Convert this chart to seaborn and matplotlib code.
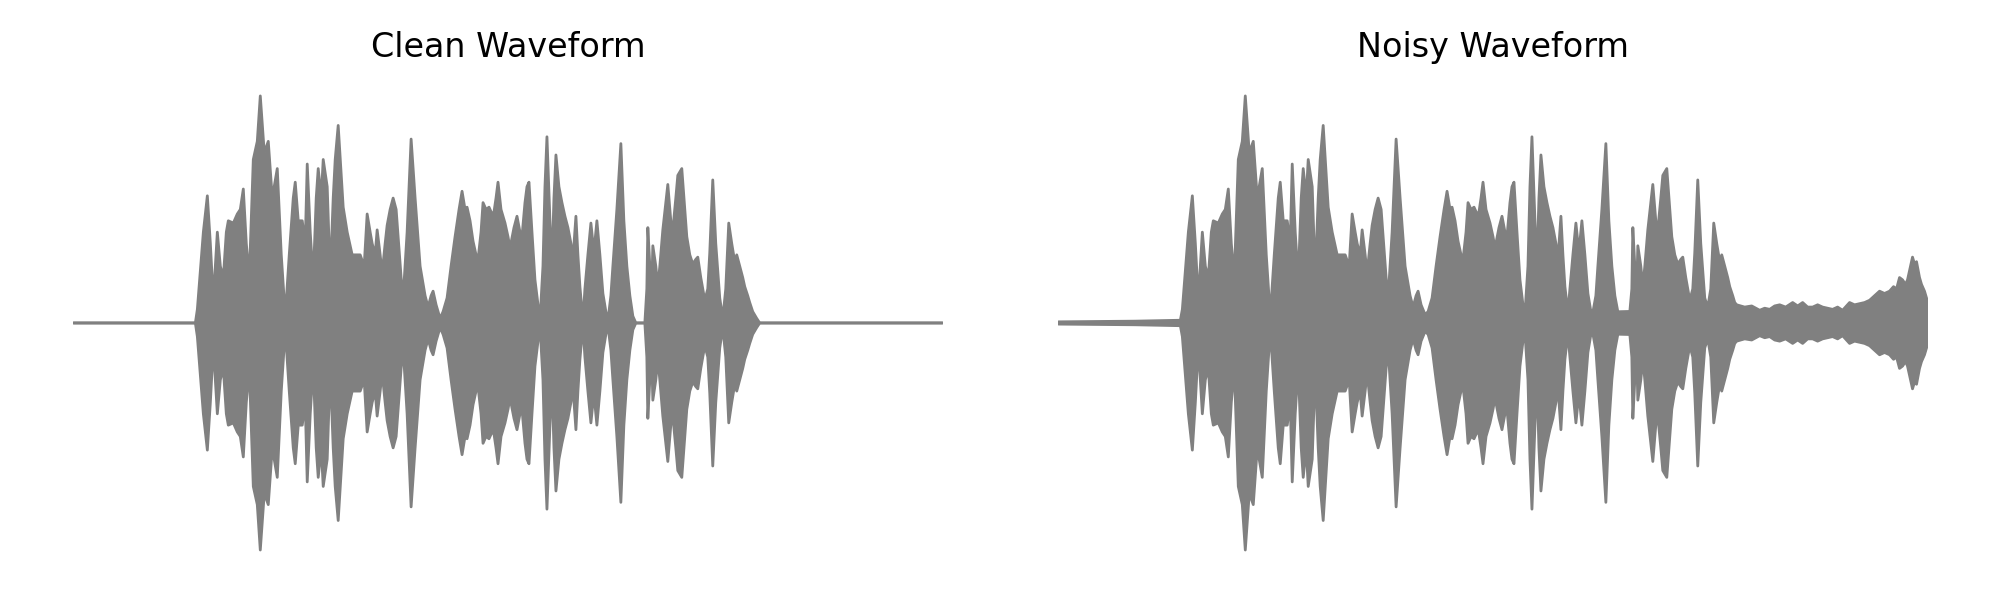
import numpy as np
import pandas as pd
import matplotlib
matplotlib.use("Agg")
import matplotlib.pyplot as plt
import seaborn as sns

# ---- data (time in 5 ms frames, amplitude normalised) ----
clean_t = [0, 122, 124, 130, 134, 137, 140, 144, 147, 150, 153, 155, 160, 164, 167, 170, 173, 176,
           180, 184, 187, 191, 195, 199, 204, 208, 212, 216, 220, 222, 225, 229, 232, 234, 237, 240,
           243, 245, 248, 250, 254, 257, 260, 262, 265, 268, 270, 274, 279, 287, 291, 294, 297, 299,
           302, 304, 307, 309, 312, 314, 317, 320, 323, 325, 328, 330, 334, 338, 342, 347, 352, 355,
           358, 360, 363, 367, 370, 374, 378, 382, 386, 389, 392, 394, 397, 400, 403, 405, 408, 410,
           413, 416, 419, 421, 423, 425, 428, 432, 435, 437, 441, 444, 447, 449, 452, 454, 456, 459,
           462, 465, 467, 470, 472, 474, 477, 479, 481, 483, 486, 489, 492, 495, 498, 500, 503, 505,
           507, 510, 512, 515, 518, 521, 524, 527, 530, 533, 535, 538, 540, 544, 548, 551, 554, 557,
           560, 563, 572, 574, 575, 577, 579, 580, 583, 585, 587, 590, 595, 598, 600, 603, 605, 609,
           612, 614, 617, 620, 623, 625, 628, 632, 635, 637, 640, 643, 647, 650, 653, 656, 659, 662,
           664, 667, 670, 672, 675, 677, 680, 684, 687, 870]
clean_amp = [0.0, 0.0, 0.06, 0.40, 0.56, 0.35, 0.10, 0.40, 0.25, 0.20, 0.40, 0.45, 0.44, 0.48, 0.50,
             0.59, 0.35, 0.20, 0.72, 0.80, 1.00, 0.75, 0.80, 0.55, 0.68, 0.30, 0.03, 0.30, 0.55, 0.62,
             0.45, 0.45, 0.35, 0.70, 0.40, 0.19, 0.55, 0.68, 0.55, 0.72, 0.60, 0.20, 0.55, 0.72, 0.87,
             0.65, 0.51, 0.40, 0.30, 0.30, 0.25, 0.48, 0.40, 0.35, 0.30, 0.41, 0.30, 0.22, 0.35, 0.43,
             0.50, 0.55, 0.50, 0.38, 0.20, 0.11, 0.40, 0.81, 0.55, 0.25, 0.12, 0.07, 0.12, 0.14, 0.08,
             0.02, 0.05, 0.11, 0.25, 0.38, 0.50, 0.58, 0.50, 0.51, 0.45, 0.36, 0.30, 0.28, 0.40, 0.53,
             0.50, 0.51, 0.48, 0.49, 0.55, 0.62, 0.50, 0.44, 0.38, 0.33, 0.42, 0.47, 0.40, 0.38, 0.53,
             0.60, 0.62, 0.40, 0.19, 0.08, 0.01, 0.25, 0.60, 0.82, 0.45, 0.25, 0.55, 0.74, 0.60, 0.53,
             0.47, 0.42, 0.35, 0.28, 0.47, 0.30, 0.16, 0.01, 0.15, 0.30, 0.44, 0.31, 0.45, 0.30, 0.13,
             0.05, 0.01, 0.12, 0.25, 0.50, 0.79, 0.45, 0.25, 0.12, 0.03, 0.0, 0.0, 0.15, 0.42, 0.25,
             0.17, 0.34, 0.25, 0.16, 0.25, 0.41, 0.61, 0.45, 0.41, 0.55, 0.65, 0.68, 0.50, 0.38, 0.30,
             0.26, 0.28, 0.29, 0.20, 0.10, 0.15, 0.31, 0.63, 0.35, 0.11, 0.02, 0.15, 0.44, 0.35, 0.27,
             0.30, 0.25, 0.20, 0.16, 0.12, 0.09, 0.05, 0.02, 0.0, 0.0]

noise_t = [0, 77, 122, 227, 427, 567, 627, 679, 687, 694, 702, 707, 712, 717, 722, 728, 735, 740,
           745, 750, 755, 760, 765, 770, 775, 780, 785, 792, 797, 802, 807, 812, 817, 822, 827, 832,
           836, 839, 842, 845, 848, 850, 853, 855, 857, 859, 862, 864, 867, 869, 870]
noise_amp = [0.005, 0.008, 0.012, 0.03, 0.04, 0.05, 0.06, 0.08, 0.07, 0.075, 0.056, 0.065, 0.06,
             0.075, 0.08, 0.07, 0.09, 0.075, 0.09, 0.07, 0.07, 0.08, 0.07, 0.065, 0.06, 0.07, 0.056,
             0.09, 0.08, 0.085, 0.09, 0.10, 0.12, 0.14, 0.13, 0.14, 0.16, 0.15, 0.20, 0.19, 0.17,
             0.19, 0.25, 0.29, 0.26, 0.27, 0.20, 0.17, 0.14, 0.11, 0.10]

titles = ["Clean Waveform", "Noisy Waveform"]

# ---- build envelopes ----
clean_t_arr = np.array(clean_t, dtype=float)
clean_env = np.array(clean_amp)
grid = np.union1d(clean_t_arr, np.array(noise_t, dtype=float))
noisy_env = np.maximum(np.interp(grid, clean_t_arr, clean_env),
                       np.interp(grid, noise_t, noise_amp))

envs = [(clean_t_arr, clean_env), (grid, noisy_env)]

sns.set_theme(style="white")
plt.rcParams['font.family'] = ['DejaVu Sans']

fig = plt.figure(figsize=(10, 3), dpi=200)
ax_pos = [[0.0365, 0.0167, 0.435, 0.915], [0.529, 0.0167, 0.435, 0.915]]
color = "#808080"

for pos, (t, env), title in zip(ax_pos, envs, titles):
    ax = fig.add_axes(pos)
    df = pd.DataFrame({"t": t, "upper": env, "lower": -env})
    ax.fill_between(df["t"], df["lower"], df["upper"], color=color, linewidth=0)
    sns.lineplot(data=df, x="t", y="upper", ax=ax, color=color, lw=1, estimator=None)
    sns.lineplot(data=df, x="t", y="lower", ax=ax, color=color, lw=1, estimator=None)
    ax.set_xlim(-0.5, 870.5)
    ax.set_ylim(-1.176, 1.242)
    ax.set_title(title, fontsize=12, y=0.94, color="black")
    ax.axis("off")

fig.savefig("out.png", dpi=200)
